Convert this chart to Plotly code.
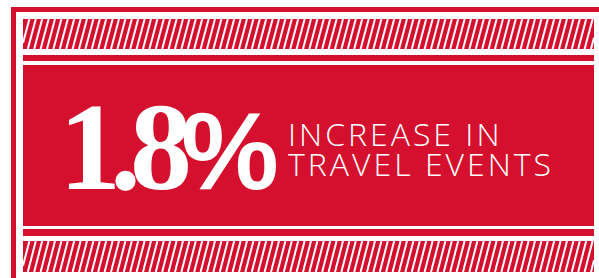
import plotly.graph_objects as go

# ---- content ----
headline_number = "1.8"
headline_unit = "%"
label_lines = ["INCREASE IN", "TRAVEL EVENTS"]

RED = "rgb(213,16,46)"
W, H = 599, 278

fig = go.Figure()

shapes = []
def rect(x0, y0, x1, y1, color=RED):
    shapes.append(dict(type="rect", xref="x", yref="y", x0=x0, x1=x1, y0=y0, y1=y1,
                       fillcolor=color, line=dict(width=0), layer="below"))

# outer frame lines
rect(11, 7, W, 12)
rect(11, 7, 16, H)

def stripe_band(y0, y1, x0=23, x1=594, period=6.4, slant=8):
    rect(x0, y0, x1, y1)
    x = x0 - slant
    while x < x1:
        xa, xb = x, x + slant
        ya, yb = y1, y0
        if xa < x0:
            t = (x0 - xa) / slant
            ya = y1 - t * (y1 - y0); xa = x0
        if xb > x1:
            t = (xb - x1) / slant
            yb = y0 + t * (y1 - y0); xb = x1
        shapes.append(dict(type="line", xref="x", yref="y", x0=xa, y0=ya, x1=xb, y1=yb,
                           line=dict(color="white", width=2), layer="below"))
        x += period

stripe_band(19, 49)
rect(23, 55, 594, 61)
rect(23, 65, 594, 226)
rect(23, 229, 594, 236)
stripe_band(241, 272)

headline = ('<span style="letter-spacing:-11px">' + headline_number + '</span>'
            '<span style="font-family:\'Liberation Sans Narrow\', \'Liberation Sans\';font-size:110px">'
            + headline_unit + '</span>')
fig.add_annotation(x=57, y=147, xref="x", yref="y", xanchor="left", yanchor="middle",
                   text=headline, showarrow=False,
                   font=dict(family="Liberation Serif", size=124,
                             color="white", weight="bold"))

for i, line in enumerate(label_lines):
    fig.add_annotation(x=286, y=133 + 30 * i, xref="x", yref="y", xanchor="left", yanchor="middle",
                       text='<span style="letter-spacing:3px">' + line + '</span>',
                       align="left", showarrow=False, height=29,
                       font=dict(family="Open Sans", size=32, color="white", weight=300))

fig.update_layout(
    width=W, height=H, margin=dict(l=0, r=0, t=0, b=0),
    paper_bgcolor="white", plot_bgcolor="white",
    xaxis=dict(range=[0, W], visible=False, fixedrange=True),
    yaxis=dict(range=[H, 0], visible=False, fixedrange=True),
    shapes=shapes, showlegend=False,
)
fig.write_html("out.html", config={"displayModeBar": False},
               post_script="document.body.style.margin='0';document.body.style.overflow='hidden';")
